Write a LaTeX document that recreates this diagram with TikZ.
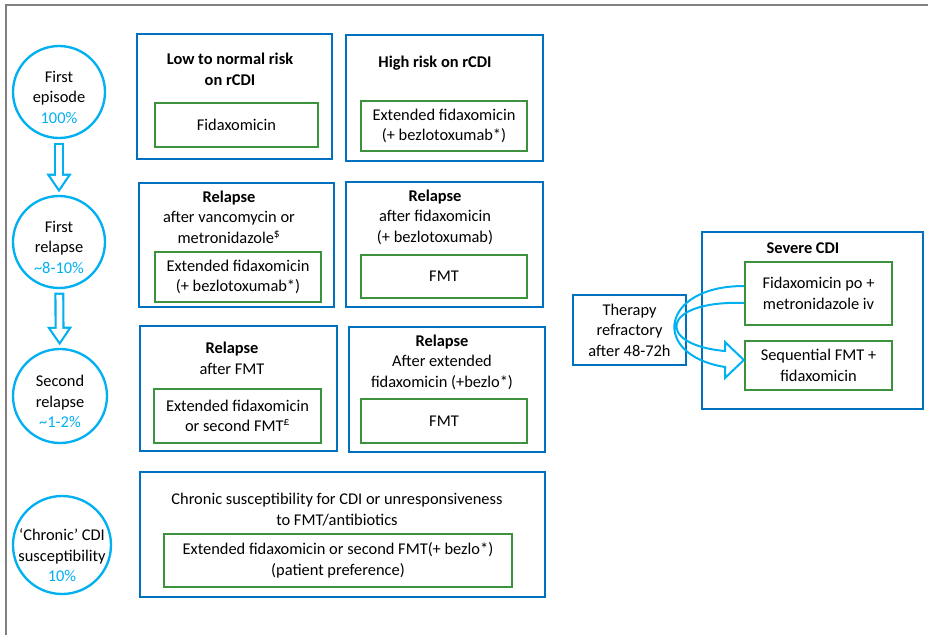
\documentclass[tikz,border=0pt]{standalone}
\usepackage{fontspec}
\setmainfont{Carlito}
\usepackage{tikz}
\usetikzlibrary{arrows.meta, calc}

\definecolor{boxblue}{RGB}{0,112,192}
\definecolor{boxgreen}{RGB}{60,145,60}
\definecolor{ringcyan}{RGB}{0,176,240}
\definecolor{framegrey}{RGB}{128,128,128}

\begin{document}
\begin{tikzpicture}[
                x=0.03cm, y=-0.03cm,
                every node/.style={align=center, inner sep=0pt, font=\fontsize{14}{17.5}\selectfont},
                bluebox/.style={draw=boxblue, line width=2.2pt},
                greenbox/.style={draw=boxgreen, line width=2pt},
                ring/.style={draw=ringcyan, line width=2pt, circle},
                heading/.style={font=\bfseries\fontsize{14}{17.5}\selectfont},
                hollowout/.style={ringcyan, line width=8.5pt, shorten <=3pt, shorten >=2pt, -{Triangle[length=16pt, width=20.4pt]}},
                hollowin/.style={white, line width=4.9pt, shorten <=4.8pt, shorten >=5.35pt, -{Triangle[length=10.85pt, width=13.8pt]}},
                curvearrow/.style={ringcyan, line width=1.7pt, line join=miter}]

            \useasboundingbox (0,0) rectangle (928,635);
            \draw[framegrey, line width=1pt] (928,5) -- (6,5) -- (6,635);

            % Stades
            \node[ring, minimum size=2.76cm, label={[yshift=-4.5pt]center:First\\episode\\\textcolor{ringcyan}{100\%}}] (first) at (59,92) {};
            \node[ring, minimum size=2.76cm, label={[yshift=-4.5pt]center:First\\relapse\\\textcolor{ringcyan}{\textasciitilde8-10\%}}] (firstrel) at (59,242) {};
            \node[ring, minimum size=2.82cm, label={[yshift=-5pt]center:Second\\relapse\\\textcolor{ringcyan}{\textasciitilde1-2\%}}] (secondrel) at (60,396) {};
            \node[ring, minimum size=2.94cm, label={[yshift=-9pt]center:`Chronic' CDI\\susceptibility\\\textcolor{ringcyan}{10\%}}] (chronicring) at (62,545) {};

            \draw[hollowout] (first) -- (firstrel);
            \draw[hollowin] (first) -- (firstrel);
            \draw[hollowout] (firstrel) -- (secondrel);
            \draw[hollowin] (firstrel) -- (secondrel);

            % Premier episode
            \node[bluebox, minimum width=5.85cm, minimum height=3.75cm] (lowrisk) at (234.5,96.5) {};
            \node[heading] (lowtitle) at (230,69.5) {Low to normal risk\\on rCDI};
            \node[greenbox, minimum width=4.89cm, minimum height=1.32cm] (lowtreat) at (236.5,125) {Fidaxomicin};

            \node[bluebox, minimum width=5.91cm, minimum height=3.78cm] (highrisk) at (444.5,98) {};
            \node[heading] (hightitle) at (435,63) {High risk on rCDI};
            \node[greenbox, minimum width=4.98cm, minimum height=1.5cm] (hightreat) at (444,126) {Extended fidaxomicin\\(+ bezlotoxumab*)};

            % Premiere rechute
            \node[bluebox, minimum width=5.85cm, minimum height=3.72cm] (relvanco) at (236.5,245) {};
            \node (vancotitle) at (229,217) {\textbf{Relapse}\\after vancomycin or\\metronidazole\textsuperscript{\$}};
            \node[greenbox, minimum width=4.98cm, minimum height=1.5cm] (vancotreat) at (238,277) {Extended fidaxomicin\\(+ bezlotoxumab*)};

            \node[bluebox, minimum width=5.91cm, minimum height=3.75cm] (relfidax) at (444.5,244.5) {};
            \node (fidaxtitle) at (435,217) {\textbf{Relapse}\\after fidaxomicin\\(+ bezlotoxumab)};
            \node[greenbox, minimum width=4.98cm, minimum height=1.29cm] (fidaxtreat) at (444,276.5) {FMT};

            % Deuxieme rechute
            \node[bluebox, minimum width=5.91cm, minimum height=3.75cm] (relfmt) at (238.5,388.5) {};
            \node (fmttitle) at (232,358.5) {\textbf{Relapse}\\after FMT};
            \node[greenbox, minimum width=5.01cm, minimum height=1.62cm] (fmttreat) at (237.5,416) {Extended fidaxomicin\\or second FMT\textsuperscript{£}};

            \node[bluebox, minimum width=5.88cm, minimum height=3.75cm] (relext) at (447,389.5) {};
            \node (exttitle) at (442,362) {\textbf{Relapse}\\After extended\\fidaxomicin (+bezlo*)};
            \node[greenbox, minimum width=4.98cm, minimum height=1.32cm] (exttreat) at (444,421) {FMT};

            % Chronique
            \node[bluebox, minimum width=12.15cm, minimum height=3.75cm] (chronic) at (342.5,534.5) {};
            \node (chronictitle) at (337,509.5) {Chronic susceptibility for CDI or unresponsiveness\\to FMT/antibiotics};
            \node[greenbox, minimum width=10.44cm, minimum height=1.59cm] (chronictreat) at (338,560.5) {Extended fidaxomicin or second FMT(+ bezlo*)\\(patient preference)};

            % CDI severe
            \node[bluebox, minimum width=6.63cm, minimum height=5.31cm] (severe) at (812.5,320.5) {};
            \node[heading] (severetitle) at (803,248) {Severe CDI};
            \node[greenbox, minimum width=4.41cm, minimum height=1.89cm] (potreat) at (818.5,293.5) {Fidaxomicin po +\\metronidazole iv};
            \node[greenbox, minimum width=4.41cm, minimum height=1.47cm] (seqtreat) at (818.5,365.5) {Sequential FMT +\\fidaxomicin};
            \node[bluebox, minimum width=3.39cm, minimum height=2.1cm] (therapy) at (629.5,330) {Therapy\\refractory\\after 48-72h};

            \draw[curvearrow] ($(potreat.west)+(0,-7.5)$) .. controls (660,286) and (650,355) .. (725,367)
                -- (725,378) -- ($(seqtreat.west)+(0,-5.5)$) -- (725,342) -- (725,351)
                .. controls (655,345) and (660,300) .. ($(potreat.west)+(0,9.5)$);

        \end{tikzpicture}
\end{document}
